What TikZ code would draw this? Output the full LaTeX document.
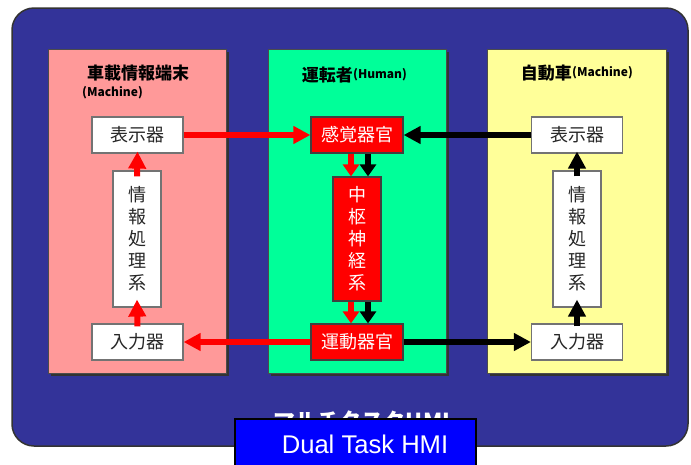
\documentclass[tikz,border=0pt]{standalone}
\usepackage{fontspec}
\setmainfont{Liberation Sans}
\newfontfamily\jp{Noto Sans CJK JP}
\usetikzlibrary{arrows.meta,shadows}
\definecolor{outerc}{HTML}{333399}
\definecolor{pinkc}{HTML}{FF9999}
\definecolor{greenc}{HTML}{00FF99}
\definecolor{yellowc}{HTML}{FFFF99}
\definecolor{bluec}{HTML}{0000FF}
\begin{document}
\begin{tikzpicture}[x=1pt,y=-1pt,
  panel/.style={draw=black!70, line width=0.8pt, minimum width=178pt, minimum height=324pt, inner sep=0pt,
    drop shadow={shadow xshift=2.5pt, shadow yshift=-2.5pt, fill=black!80, opacity=1}},
  title/.style={font=\jp\bfseries\fontsize{17}{20}\selectfont, text=black, inner sep=0pt},
  small/.style={font=\jp\bfseries\fontsize{12}{14}\selectfont, text=black, inner sep=0pt},
  wbox/.style={draw=black!55, line width=1.2pt, fill=white, minimum width=91pt, minimum height=36pt, inner sep=0pt,
    font=\jp\fontsize{18}{22}\selectfont, text=black!85},
  rbox/.style={wbox, draw=black!75, fill=red, text=white},
  vbox/.style={wbox, minimum width=48pt, minimum height=136pt, align=center},
  redarr/.style={draw=red, line width=6pt, -{Triangle[length=17pt,width=17pt]}},
  blkarr/.style={redarr, draw=black},
  sredarr/.style={draw=red, line width=6pt, -{Triangle[length=12pt,width=16pt]}},
  sblkarr/.style={sredarr, draw=black}]
\useasboundingbox (0,0) rectangle (691,464);
\fill[white] (0,0) rectangle (691,464);
% outer frame
\draw[fill=outerc, draw=black!80, line width=1.5pt, rounded corners=22pt] (12,8) rectangle (688,446);
% panels
\node[panel, fill=pinkc] (pl) at (137,211) {};
\node[panel, fill=greenc] (pc) at (357,211) {};
\node[panel, fill=yellowc, minimum width=179pt] (pr) at (576.5,211) {};
% titles
\node[title] (tl) at (138,73) {車載情報端末};
\node[small, anchor=west] (tlm) at (82,93) {(Machine)};
\node[title, anchor=east] (tc) at (353,75) {運転者};
\node[small, anchor=west] (tch) at (tc.east) {(Human)};
\node[title, anchor=east] (tr) at (572,73) {自動車};
\node[small, anchor=west] (trm) at (tr.east) {(Machine)};
% boxes
\node[wbox] (ld) at (137.5,135) {表示器};
\node[rbox, minimum width=92pt] (sense) at (357,135) {感覚器官};
\node[wbox] (rd) at (577,135) {表示器};
\node[vbox] (lp) at (137,239) {情\\報\\処\\理\\系};
\node[rbox, minimum width=48pt, minimum height=124pt, align=center] (cns) at (357,239) {中\\枢\\神\\経\\系};
\node[vbox] (rp) at (577,239) {情\\報\\処\\理\\系};
\node[wbox] (li) at (137.5,342) {入力器};
\node[rbox, minimum width=92pt] (motor) at (357,342) {運動器官};
\node[wbox] (ri) at (577,342) {入力器};
% horizontal arrows
\draw[redarr] (ld.east) -- (sense.west);
\draw[blkarr] (rd.west) -- (sense.east);
\draw[redarr] (motor.west) -- (li.east);
\draw[blkarr] (motor.east) -- (ri.west);
% center vertical arrows
\draw[sredarr] ([xshift=-6pt]sense.south) -- ([xshift=-6pt]cns.north);
\draw[sblkarr] ([xshift=11pt]sense.south) -- ([xshift=11pt]cns.north);
\draw[sredarr] ([xshift=-6pt]cns.south) -- ([xshift=-6pt]motor.north);
\draw[sblkarr] ([xshift=11pt]cns.south) -- ([xshift=11pt]motor.north);
% side vertical arrows
\draw[redarr] ([yshift=-3pt]li.north) -- ([yshift=8pt]lp.south);
\draw[redarr] ([yshift=-6pt]lp.north) -- ([yshift=2pt]ld.south);
\draw[blkarr] ([yshift=-3pt]ri.north) -- ([yshift=8pt]rp.south);
\draw[blkarr] ([yshift=-6pt]rp.north) -- ([yshift=2pt]rd.south);
% bottom label
\node[font=\jp\bfseries\fontsize{22}{24}\selectfont, text=white, anchor=north, inner sep=0pt] (multi) at (362,411) {マルチタスクHMI};
\node[draw=black, line width=2pt, fill=bluec, minimum width=241pt, minimum height=54pt, inner sep=0pt, anchor=north west] (dual) at (234,418) {};
\node[font=\fontsize{25.6}{28}\selectfont, text=white, anchor=base, inner sep=0pt] (dualt) at (365,453) {Dual Task HMI};
\end{tikzpicture}
\end{document}
